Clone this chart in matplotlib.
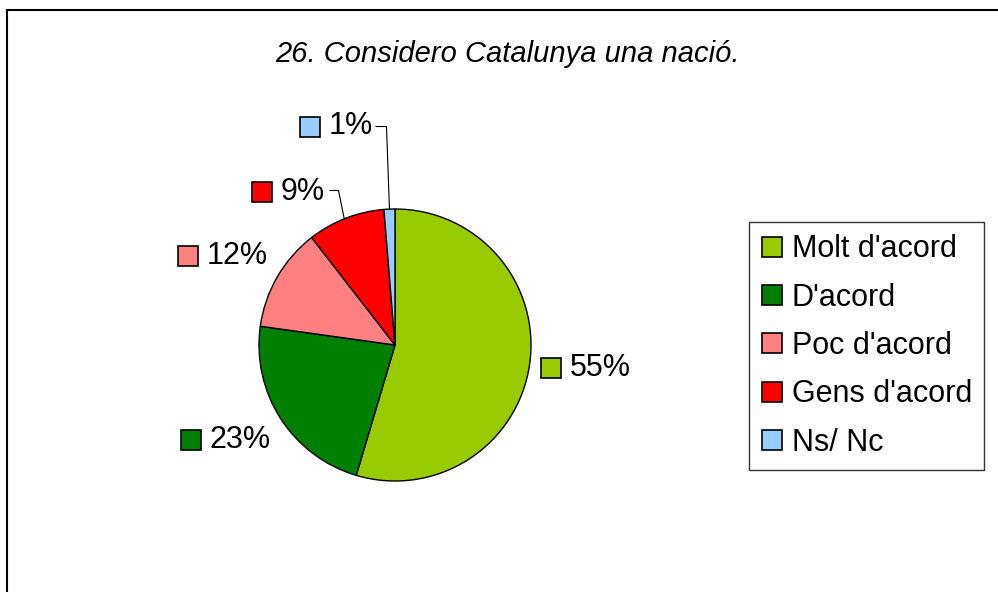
import matplotlib.pyplot as plt
import numpy as np
from matplotlib.lines import Line2D
from matplotlib.patches import Rectangle

plt.rcParams['font.family'] = ['Liberation Sans', 'DejaVu Sans']

title = "26. Considero Catalunya una nació."
categories = ["Molt d'acord", "D'acord", "Poc d'acord", "Gens d'acord", "Ns/ Nc"]
values = [54.6, 22.6, 12.3, 9.2, 1.3]
colors = ["#99CC00", "#008000", "#FF8080", "#FF0000", "#99CCFF"]

W, H = 998, 592
fig = plt.figure(figsize=(W / 100, H / 100), dpi=100)
fig.patch.set_facecolor("white")

# axes in pixel units (y up)
ax = fig.add_axes([0, 0, 1, 1])

# outer frame, cut off at right and bottom like the original
ax.add_patch(Rectangle((7.5, -20), 1200, H - 10 + 20, fill=False, lw=1.5, ec="black"))

cx, cy, r = 395, H - 345, 136
wedges, _ = ax.pie(values, colors=colors, startangle=90, counterclock=False,
                   center=(cx, cy), radius=r, frame=True,
                   wedgeprops=dict(edgecolor="black", linewidth=1))
ax.set_xlim(0, W)
ax.set_ylim(0, H)
ax.set_aspect("equal")
ax.set_axis_off()

# label positions (left edge of colour box, centre y) in image pixels
label_pos = [(541, 367.5), (181, 439.5), (178, 256), (252, 191.5), (300, 126.5)]
for val, col, (lx, ly) in zip(values, colors, label_pos):
    ax.add_patch(Rectangle((lx, H - ly - 10), 20, 20, fc=col, ec="black", lw=1.2))
    ax.text(lx + 29, H - ly, f"{val:.0f}%", fontsize=22, va="center", ha="left")

# leader lines for the two small slices
def leader(i, x0, y0, x1, frac=0.5):
    w = wedges[i]
    ang = np.deg2rad(w.theta1 + (w.theta2 - w.theta1) * frac)
    ex, ey = cx + r * np.cos(ang), cy + r * np.sin(ang)
    ax.plot([x0, x1, ex], [H - y0, H - y0, ey], color="black", lw=0.8)

leader(4, 376, 126.5, 386.5)
leader(3, 330, 190.5, 338.5, frac=0.52)

fig.text(507 / W, 1 - 54 / H, title, fontsize=21, style="italic",
         ha="center", va="center")

handles = [Line2D([], [], marker="s", linestyle="none", markersize=15,
                  markerfacecolor=c, markeredgecolor="black", markeredgewidth=1.2)
           for c in colors]
leg = fig.legend(handles, categories, loc="upper left",
                 bbox_to_anchor=(749 / W, 1 - 222 / H), bbox_transform=fig.transFigure,
                 fontsize=22, frameon=True, fancybox=False, shadow=False,
                 handlelength=0.7, handletextpad=0.3, labelspacing=0.6,
                 borderpad=0.4, borderaxespad=0)
leg.get_frame().set_edgecolor("black")
leg.get_frame().set_linewidth(1)

fig.savefig("out.png", dpi=100)
